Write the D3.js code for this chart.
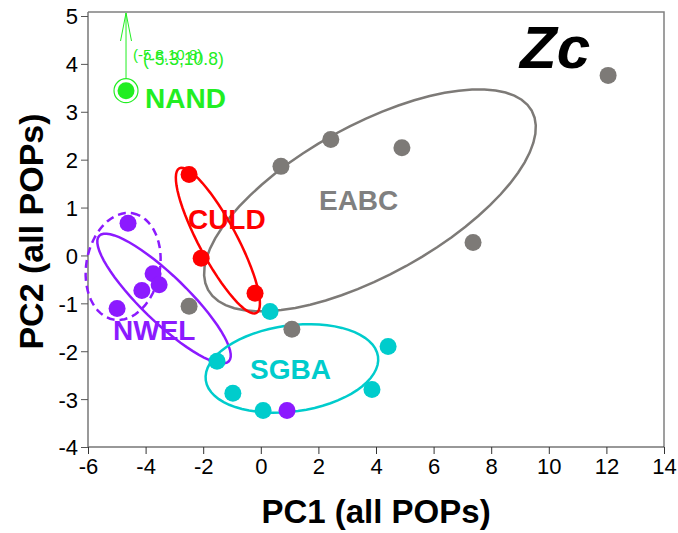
<!DOCTYPE html>
<html>
<head>
<meta charset="utf-8">
<script src="https://cdn.jsdelivr.net/npm/d3@7"></script>
<style>
  body { margin: 0; background: #fff; }
  text { font-family: Arial, 'Liberation Sans', sans-serif; }
</style>
</head>
<body>
<div class="chart"></div>
<script>
// values
const xTicks = [-6, -4, -2, 0, 2, 4, 6, 8, 10, 12, 14];
const yTicks = [-4, -3, -2, -1, 0, 1, 2, 3, 4, 5];

const groups = ['EABC', 'CULD', 'NWEL', 'SGBA', 'NAND'];
const groupColors = ['#7d7a77', '#ff0000', '#8c1aff', '#00cccc', '#22ee22'];

const eabcX = [12.06, 0.70, 2.43, 4.90, 7.37, -2.49, 1.08];
const eabcY = [3.76, 1.86, 2.42, 2.25, 0.27, -1.06, -1.54];
const culdX = [-2.49, -2.07, -0.20];
const culdY = [1.69, -0.06, -0.79];
const sgbaX = [0.32, 4.42, 3.86, 0.08, -0.97, -1.52];
const sgbaY = [-1.17, -1.90, -2.80, -3.24, -2.88, -2.21];
const nwelX = [-4.61, -4.99, -3.74, -4.13, -3.53, 0.91];
const nwelY = [0.67, -1.11, -0.38, -0.73, -0.61, -3.24];
const nandX = [-4.68];
const nandY = [3.44];

// ellipses: centre, first half axis, second half axis (data units)
const ellipseGroup = ['EABC', 'CULD', 'NWEL', 'NWEL', 'SGBA'];
const ellipseCenter = [[3.79, 1.15], [-1.49, 0.31], [-3.36, -0.90], [-4.78, -0.23], [1.08, -2.36]];
const ellipseAxisA = [[5.62, 1.87], [1.34, -1.51], [2.25, -1.31], [0.33, 1.11], [2.99, 0.25]];
const ellipseAxisB = [[-1.26, 1.37], [0.58, 0.19], [0.555, 0.345], [1.26, -0.134], [0.21, -0.89]];
const ellipseDashed = [false, false, false, true, false];

// group label anchors (start of text, baseline)
const labelX = [2.02, -2.53, -5.13, -0.375, -4.02];
const labelY = [0.94, 0.56, -1.77, -2.57, 3.07];

// off-scale NAND values shown by the arrow
const offX = [-5.8, -5.3];
const offY = [10.8, 10.8];

const W = 678, H = 533;
const margin = {top: 16, right: 14, bottom: 86, left: 88};

const svg = d3.select('.chart')
    .append('svg')
    .attr('width', W)
    .attr('height', H);

const x = d3.scaleLinear().domain([-6, 14]).range([margin.left, W - margin.right]);
const y = d3.scaleLinear().domain([-4, 5]).range([447, margin.top]);

// frame (top and right)
svg.append('path')
    .attr('d', `M${x(-6)},${y(5) - 4}H${x(14)}V${y(-4)}`)
    .attr('fill', 'none')
    .attr('stroke', '#808080')
    .attr('stroke-width', 1.5);

const fmt = d => String(d);
const xAxis = d3.axisBottom(x).tickValues(xTicks).tickFormat(fmt).tickSize(7).tickPadding(4);
const yAxis = d3.axisLeft(y).tickValues(yTicks).tickFormat(fmt).tickSize(7).tickPadding(3);

const gx = svg.append('g')
    .attr('class', 'axis x-axis')
    .attr('transform', `translate(0,${y(-4)})`)
    .call(xAxis);
gx.select('.domain').attr('d', `M${x(-6)},0H${x(14)}`).attr('stroke', '#333').attr('stroke-width', 1.2);
gx.selectAll('.tick line').attr('stroke', '#333');
gx.selectAll('.tick text').attr('font-size', 22).attr('fill', '#000');

const gy = svg.append('g')
    .attr('class', 'axis y-axis')
    .attr('transform', `translate(${x(-6)},0)`)
    .call(yAxis);
gy.select('.domain').attr('d', `M0,${y(5) - 4}V${y(-4)}`).attr('stroke', '#777').attr('stroke-width', 1.5);
gy.selectAll('.tick line').attr('stroke', '#555');
gy.selectAll('.tick text').attr('font-size', 22).attr('fill', '#000').attr('dy', '0.36em');

// axis titles
svg.append('text')
    .attr('x', (x(-6) + x(14)) / 2)
    .attr('y', 523)
    .attr('text-anchor', 'middle')
    .attr('font-size', 33)
    .attr('font-weight', 'bold')
    .text('PC1 (all POPs)');

svg.append('text')
    .attr('transform', `translate(43,${(y(5) + y(-4)) / 2}) rotate(-90)`)
    .attr('text-anchor', 'middle')
    .attr('font-size', 34)
    .attr('font-weight', 'bold')
    .text('PC2 (all POPs)');

// ellipses
const line = d3.line().x(d => x(d[0])).y(d => y(d[1])).curve(d3.curveLinearClosed);
ellipseGroup.forEach((g, i) => {
    const c = ellipseCenter[i], a = ellipseAxisA[i], b = ellipseAxisB[i];
    const pts = d3.range(64).map(k => {
        const t = 2 * Math.PI * k / 64;
        return [c[0] + Math.cos(t) * a[0] + Math.sin(t) * b[0],
                c[1] + Math.cos(t) * a[1] + Math.sin(t) * b[1]];
    });
    svg.append('path')
        .attr('d', line(pts))
        .attr('fill', 'none')
        .attr('stroke', groupColors[groups.indexOf(g)])
        .attr('stroke-width', 2.5)
        .attr('stroke-dasharray', ellipseDashed[i] ? '8,5' : null);
});

// points
const series = {EABC: [eabcX, eabcY], CULD: [culdX, culdY], SGBA: [sgbaX, sgbaY], NWEL: [nwelX, nwelY]};
['EABC', 'CULD', 'SGBA', 'NWEL'].forEach(g => {
    const [xs, ys] = series[g];
    svg.append('g').selectAll('circle')
        .data(xs.map((v, i) => [v, ys[i]]))
        .enter()
        .append('circle')
        .attr('cx', d => x(d[0]))
        .attr('cy', d => y(d[1]))
        .attr('r', 8.5)
        .attr('fill', groupColors[groups.indexOf(g)]);
});

// NAND point with ring and off-scale arrow
const green = groupColors[groups.indexOf('NAND')];
svg.append('circle')
    .attr('cx', x(nandX[0])).attr('cy', y(nandY[0])).attr('r', 12)
    .attr('fill', 'none').attr('stroke', green).attr('stroke-width', 1.2);
svg.append('circle')
    .attr('cx', x(nandX[0])).attr('cy', y(nandY[0])).attr('r', 8.5)
    .attr('fill', green);
const ax = x(nandX[0]), arrowTop = y(5) - 3;
svg.append('path')
    .attr('d', `M${ax},${y(nandY[0]) - 12}V${arrowTop}M${ax - 5.5},${arrowTop + 28}L${ax},${arrowTop}L${ax + 5.5},${arrowTop + 28}`)
    .attr('fill', 'none').attr('stroke', green).attr('stroke-width', 1);
offX.forEach((v, i) => {
    svg.append('text')
        .attr('x', ax + 7 + i * 10)
        .attr('y', 60 + i * 5)
        .attr('font-size', i === 0 ? 15 : 17.5)
        .attr('fill', green)
        .text(`(${v},${offY[i]})`);
});

// group labels
groups.forEach((g, i) => {
    svg.append('text')
        .attr('x', x(labelX[i]))
        .attr('y', y(labelY[i]))
        .attr('font-size', 28)
        .attr('font-weight', 'bold')
        .attr('fill', g === 'EABC' ? '#808080' : groupColors[i])
        .text(g);
});

// panel tag
svg.append('text')
    .attr('x', 520)
    .attr('y', 68)
    .attr('font-size', 60)
    .attr('font-weight', 'bold')
    .attr('font-style', 'italic')
    .text('Zc');
</script>
</body>
</html>
